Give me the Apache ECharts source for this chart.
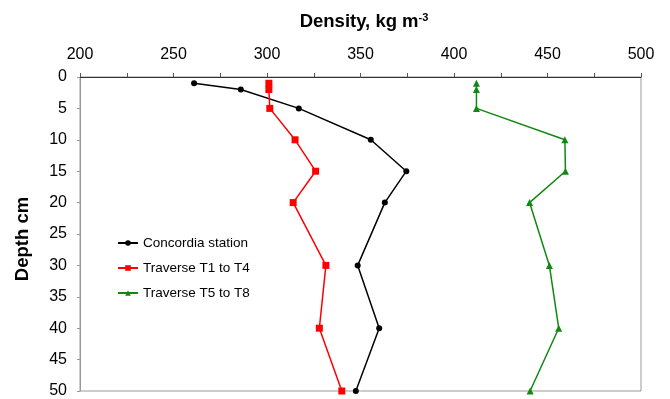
<!DOCTYPE html>
<html><head><meta charset="utf-8">
<script src="https://cdn.jsdelivr.net/npm/echarts@6/dist/echarts.min.js"></script>
<style>html,body{margin:0;padding:0;background:#fff}#c{width:670px;height:399px}</style>
</head><body><div id="c"></div>
<script>
const depths = [1, 2, 5, 10, 15, 20, 30, 40, 50];
const concordia = [261, 286, 317, 355.5, 374.5, 363, 348.5, 360, 347.5];
const traverseT1T4 = [301, 301, 301.5, 315, 326, 314, 331.5, 328, 340];
const traverseT5T8 = [412, 412, 412, 459.3, 459.6, 440.4, 451, 456, 440.7];
const xTicks = [200, 250, 300, 350, 400, 450, 500];
const yTicks = [0, 5, 10, 15, 20, 25, 30, 35, 40, 45, 50];

const FONT = '"Liberation Sans", Arial, sans-serif';
const pair = vals => vals.map((v, i) => [v, depths[i]]);

const chart = echarts.init(document.getElementById('c'), null, {renderer: 'canvas'});
chart.setOption({
  animation: false,
  backgroundColor: '#fff',
  title: {
    text: '{a|Density, kg m}{s|-3}',
    left: 359, top: 7, textAlign: 'center',
    textStyle: {
      rich: {
        a: {fontFamily: FONT, fontSize: 18.5, fontWeight: 'bold', color: '#000'},
        s: {fontFamily: FONT, fontSize: 11, fontWeight: 'bold', color: '#000', verticalAlign: 'top', padding: [0,0,8,0]}
      }
    }
  },
  grid: {left: 80, right: 29, top: 77, bottom: 7, show: true, borderColor: '#999', borderWidth: 1},
  legend: {
    orient: 'vertical', left: 112, top: 231, itemWidth: 20, itemHeight: 7, itemGap: 11,
    textStyle: {fontFamily: FONT, fontSize: 13.5, color: '#000'},
    data: ['Concordia station', 'Traverse T1 to T4', 'Traverse T5 to T8']
  },
  xAxis: {
    type: 'value', position: 'top', min: xTicks[0], max: xTicks[xTicks.length - 1], interval: 50,
    axisLine: {show: true, lineStyle: {color: '#333', width: 1}},
    axisTick: {show: true, length: 4, lineStyle: {color: '#555'}},
    minorTick: {show: true, splitNumber: 2, length: 4, lineStyle: {color: '#555'}},
    axisLabel: {fontFamily: FONT, fontSize: 16, color: '#000', margin: 14},
    splitLine: {show: false}
  },
  yAxis: {
    type: 'value', inverse: true, min: yTicks[0], max: yTicks[yTicks.length - 1], interval: 5,
    name: 'Depth cm', nameLocation: 'middle', nameGap: 48, nameRotate: 90,
    nameTextStyle: {fontFamily: FONT, fontSize: 18.5, fontWeight: 'bold', color: '#000', padding: [0, 10, 0, 0]},
    axisLine: {show: true, lineStyle: {color: '#999'}},
    axisTick: {show: true, length: 3, lineStyle: {color: '#999'}},
    axisLabel: {fontFamily: FONT, fontSize: 16, color: '#000', margin: 13},
    splitLine: {show: false}
  },
  series: [
    {name: 'Concordia station', type: 'line', data: pair(concordia), symbol: 'circle', symbolSize: 6,
     itemStyle: {color: '#000'}, lineStyle: {color: '#000', width: 1.5}},
    {name: 'Traverse T1 to T4', type: 'line', data: pair(traverseT1T4), symbol: 'rect', symbolSize: 7,
     itemStyle: {color: '#ff0000'}, lineStyle: {color: '#ff0000', width: 1.5}},
    {name: 'Traverse T5 to T8', type: 'line', data: pair(traverseT5T8), symbol: 'triangle', symbolSize: 7,
     itemStyle: {color: '#118811'}, lineStyle: {color: '#118811', width: 1.5}}
  ]
});
</script></body></html>
